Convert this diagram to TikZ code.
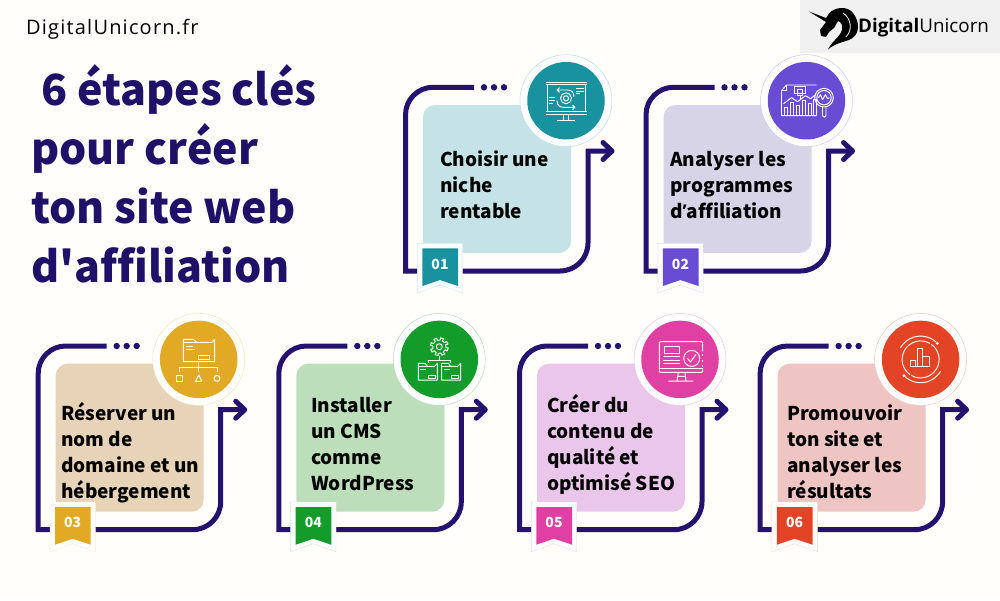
\documentclass[tikz,border=0pt]{standalone}
\usepackage{fontspec}
\setmainfont{Open Sans}
\newfontfamily\hf[Ligatures={NoCommon}]{Noto Sans CJK SC}
\definecolor{bgc}{HTML}{FFFEFA}
\definecolor{navy}{HTML}{24126E}
\definecolor{titlec}{HTML}{1F1068}
\definecolor{cA}{HTML}{18929E}\definecolor{lA}{HTML}{C5E3E6}
\definecolor{cB}{HTML}{684CD4}\definecolor{lB}{HTML}{D8D4E8}
\definecolor{cC}{HTML}{E2AA24}\definecolor{lC}{HTML}{E6D3B8}
\definecolor{cD}{HTML}{149C2A}\definecolor{lD}{HTML}{BDDEBB}
\definecolor{cE}{HTML}{E03FA3}\definecolor{lE}{HTML}{EAC6EA}
\definecolor{cF}{HTML}{E44426}\definecolor{lF}{HTML}{EFC5C4}
\newcommand{\fl}{\rule{0pt}{15pt}}
\tikzset{
 cardbox/.style={rectangle,rounded corners=12pt,minimum width=148pt,minimum height=148pt,inner sep=0pt,draw=none},
 flow/.style={draw=navy,line width=5pt,line join=miter},
 tip/.style={draw=navy,line width=5pt,line cap=round,line join=round},
 disc/.style={circle,inner sep=0pt,minimum size=77.5pt,draw=none},
 ring/.style={circle,inner sep=0pt,minimum size=92pt,fill=white,line width=.5pt},
 lab/.style={anchor=north west,align=left,font=\hf\fontsize{19}{26}\selectfont\bfseries,text=black,inner sep=0pt},
 ttl/.style={anchor=base west,inner sep=0pt,font=\hf\fontsize{42.9}{48}\selectfont\bfseries,text=titlec},
 num/.style={font=\hf\fontsize{14}{14}\selectfont\bfseries,text=white,inner sep=0pt},
 ico/.style={draw=white,line width=.95pt,fill=none,line join=round},
}
\newcommand{\stepcard}[5]{% dx dy colour light number
\begin{scope}[shift={(#1,#2)}]
 \node[cardbox,fill=#4] (box#5) at (497,179) {};
 \coordinate (st#5) at (474,87.3);
 \coordinate (end#5) at (612,151);
 \draw[flow] (st#5) -- (433,87.3) arc[start angle=-90,end angle=-180,radius=27.5] -- (405.5,271) -- (560,271) arc[start angle=90,end angle=0,radius=28] -- (588,151) -- (end#5);
 \draw[tip] (603,142.5) -- (end#5) -- (603,159.5);
 \foreach \k/\xx in {a/484,b/494,c/504} \node[circle,fill=navy,minimum size=6.4pt,inner sep=0pt] (dot#5\k) at (\xx,87.3) {};
 \node[ring,draw=#3!30] (ring#5) at (566,100.7) {};
 \node[disc,fill=#3] (disc#5) at (566,100.7) {};
 \fill[white,draw=#3!20,line width=.4pt] (417.3,243.3) -- (462.7,243.3) -- (462.7,293) -- (440,285) -- (417.3,293) -- cycle;
 \fill[#3] (422.3,248.3) -- (458,248.3) -- (458,286) -- (440,280) -- (422.3,286) -- cycle;
 \node[num] (num#5) at (440,264) {#5};
\end{scope}}
\newcommand{\iconA}{
 \draw[ico] (-20.5,-18.4) -- (20.5,-18.4) (-20.5,-16) -- (20.5,-16) (-20.5,13.6) -- (20.5,13.6) (-20.5,11) -- (20.5,11);
 \draw[ico] (-19,-16) -- (-19,11) (19,-16) -- (19,11);
 \draw[ico] (-2.5,13.6) -- (-2.5,20) (2.5,13.6) -- (2.5,20) (-9,20) -- (9,20);
 \draw[ico] (0,-2.4) circle[radius=5.5] (0,-2.4) circle[radius=2.6];
 \draw[ico] (8,-4) .. controls (8,-9) and (5,-10.7) .. (1,-10.7) -- (-9,-10.7) (-6.5,-13) -- (-9,-10.7) -- (-6.5,-8.4);
 \draw[ico] (-9,0) .. controls (-9,5) and (-6,6.6) .. (-2,6.6) -- (9,6.6) (6.5,4.3) -- (9,6.6) -- (6.5,8.9);
 \draw[ico] (-17,-3) -- (-11,-3) (-17,0) -- (-11,0) (-17,3) -- (-13,3);
 \draw[ico] (10,-12) -- (18,-12) (10,-9.5) -- (18,-9.5) (10,-7) -- (14,-7);
}
\newcommand{\iconB}{
 \draw[ico] (10,-15.7) -- (-20,-15.7) -- (-25,-10) -- (-25,15) -- (10,15);
 \draw[ico] (-25,-10) -- (-20,-10) -- (-20,-15.7);
 \draw[ico] (-12,-14) rectangle (-1,-7) (-9,-11.5) rectangle (-4,-5) (-6,-5) -- (-6,-2);
 \foreach \a/\b/\c in {-22/-19/7,-16/-13/2,-10/-7/5,-4/-1/0,2/5/3,7/10/-1} \draw[ico] (\a,14) -- (\a,\c) -- (\b,\c) -- (\b,14);
 \draw[ico] (-23,3) -- (-15,-3) -- (-9,1) -- (-1,-5) -- (4,-2) -- (9,-6);
 \draw[ico,line width=1pt] (17.5,-3) circle[radius=9.3] (17.5,-3) circle[radius=7.2];
 \draw[ico] (12,-3) -- (14,-6) -- (16,-1) -- (19,-6) -- (21,-2) -- (23,-3);
 \draw[ico] (16,6) -- (16,15) .. controls (16,17) and (19.5,17) .. (19.5,15) -- (19.5,6);
}
\newcommand{\iconC}{
 \draw[ico] (-15.4,2.3) -- (-15.4,-20) -- (-5,-20) -- (-2,-17) -- (13,-17) -- (16,-20) -- (16,2.3) -- cycle;
 \draw[ico] (-15.4,-17) -- (-2,-17);
 \draw[ico] (-13,-13) -- (-6,-13) (-13,-10) -- (-4,-10);
 \draw[ico] (0,-4.3) rectangle (11,-.3);
 \draw[ico] (0,2.3) -- (0,12.3) (-19,12.3) -- (-19,8) -- (18.3,8) -- (18.3,12.3);
 \draw[ico] (-22,16) rectangle (-16,22);
 \draw[ico] (0,15.5) -- (3.2,22) -- (-3.2,22) -- cycle;
 \draw[ico] (18.3,19) circle[radius=3];
}
\newcommand{\iconDfolder}[1]{
 \draw[ico] (#1,4) -- (#1+7,4) -- (#1+9,7) -- (#1+16,7) -- (#1+19,4) -- (#1+19,20.7) -- (#1,20.7) -- cycle;
 \draw[ico] (#1,7) -- (#1+9,7) (#1+2,10) -- (#1+8,10);
 \draw[ico] (#1+10,15.7) rectangle (#1+17,18.7);
}
\newcommand{\iconD}{
 \draw[ico] (0,-12.7) circle[radius=3];
 \foreach \t in {0,45,...,315} \draw[ico] (0,-12.7) ++(\t+8:6.6) -- ++(\t+8:2.4) arc[start angle=\t+8,end angle=\t+28,radius=9] -- ++(\t+208:2.4) arc[start angle=\t+28,end angle=\t+53,radius=6.6];
 \draw[ico] (0,-3.7) -- (0,.7) (-11.3,4) -- (-11.3,.7) -- (11.3,.7) -- (11.3,4);
 \iconDfolder{-21} \iconDfolder{2.3}
}
\newcommand{\iconE}{
 \draw[ico,rounded corners=1pt] (22.7,-8) -- (22.7,-17.7) -- (-20.7,-17.7) -- (-20.7,13) -- (22.7,13) -- (22.7,10);
 \draw[ico] (22.7,-5) -- (22.7,-3) (22.7,1) -- (22.7,3) (22.7,6) -- (22.7,8);
 \draw[ico] (-20.7,9) -- (22.7,9);
 \draw[ico] (-16,-13.3) rectangle (-.7,-6);
 \draw[ico] (-16.7,-2.7) -- (0,-2.7) (-16.7,.7) -- (0,.7) (-16.7,4) -- (0,4);
 \draw[ico] (11.7,-1) circle[radius=8];
 \draw[ico,line width=1pt] (7.5,-1) -- (10.5,2.5) -- (16,-5);
 \draw[ico] (-1.7,13) -- (-3,21.7) (5,13) -- (6,21.7) (-2.5,17) -- (5.5,17) (-11.7,21.7) -- (13.3,21.7);
}
\newcommand{\iconF}{
 \draw[ico] (0,0) ++(-60:18.5) arc[start angle=-60,end angle=-235,radius=18.5];
 \draw[ico] (0,0) ++(120:18.5) arc[start angle=120,end angle=-55,radius=18.5];
 \draw[ico] (0,0) ++(-48:23.3) arc[start angle=-48,end angle=-150,radius=23.3];
 \draw[ico] (0,0) ++(132:23.3) arc[start angle=132,end angle=30,radius=23.3];
 \fill[white] (16.7,-16) circle[radius=1.6] (-16.7,16.3) circle[radius=1.6];
 \draw[ico] (-10.3,7.3) -- (-10.3,.7) -- (-5,.7) -- (-5,7.3) (-3.3,7.3) -- (-3.3,-11) -- (1.7,-11) -- (1.7,7.3) (1.7,-2.7) -- (9,-2.7) -- (9,7.3) -- (-10.3,7.3);
}
\begin{document}
\begin{tikzpicture}[x=1pt,y=-1pt]
\useasboundingbox (0,0) rectangle (1000,600);
\fill[bgc] (0,0) rectangle (1000,600);
% logo
\fill[black!6] (800,0) rectangle (1000,53);
\fill[black] (809,11.5) -- (826,18) -- (829,13.5) .. controls (835,6.5) and (848,6) .. (853,13) .. controls (860,22) and (860,34) .. (851,39) .. controls (845,42) and (835,43) .. (828,49.5) .. controls (831,42) and (840,37) .. (842,30) .. controls (843,25) and (841,22) .. (838,21) -- (834,28) -- (829,32) -- (826,37) -- (821,36) -- (820,30) -- (826,22) -- cycle;
\draw[bgc,line width=.8pt] (843,13) .. controls (851,18) and (853,30) .. (846,37);
\node[anchor=base west,inner sep=0pt,font=\fontsize{18.8}{20}\selectfont] (logo) at (858,32) {\textbf{Digital}Unicorn};
\node[anchor=base west,inner sep=0pt,font=\addfontfeature{LetterSpace=6}\fontsize{20}{24}\selectfont,text=black] (site) at (26,34) {DigitalUnicorn.fr};
% title
\node[ttl] (t1) at (41,105.5) {6 étapes clés};
\node[ttl] (t2) at (31,164) {pour créer};
\node[ttl] (t3) at (31,223.3) {ton site web};
\node[ttl] (t4) at (31,282.5) {d'affiliation};
\stepcard{0}{0}{cA}{lA}{01}
\stepcard{240.5}{0}{cB}{lB}{02}
\stepcard{-367.3}{258.7}{cC}{lC}{03}
\stepcard{-126.7}{258.7}{cD}{lD}{04}
\stepcard{114}{258.7}{cE}{lE}{05}
\stepcard{354.6}{258.7}{cF}{lF}{06}
\begin{scope}[shift={(disc01.center)}]\iconA\end{scope}
\begin{scope}[shift={(disc02.center)}]\iconB\end{scope}
\begin{scope}[shift={(disc03.center)}]\iconC\end{scope}
\begin{scope}[shift={(disc04.center)}]\iconD\end{scope}
\begin{scope}[shift={(disc05.center)}]\iconE\end{scope}
\begin{scope}[shift={(disc06.center)}]\iconF\end{scope}
\node[lab] (l1) at (440,150.7) {\fl Choisir une\\niche\\rentable};
\node[lab] (l2) at (670,150.7) {\fl Analyser les\\programmes\\d{\rmfamily ’}affiliation};
\node[lab] (l3) at (61,402.3) {\fl Réserver un\\nom de\\domaine et un\\hébergement};
\node[lab] (l4) at (311,396.7) {\fl Installer\\un CMS\\comme\\WordPress};
\node[lab] (l5) at (547,393.7) {\fl Créer du\\contenu de\\qualité et\\optimisé SEO};
\node[lab] (l6) at (787,405) {\fl Promouvoir\\ton site et\\analyser les\\résultats};
\end{tikzpicture}
\end{document}
